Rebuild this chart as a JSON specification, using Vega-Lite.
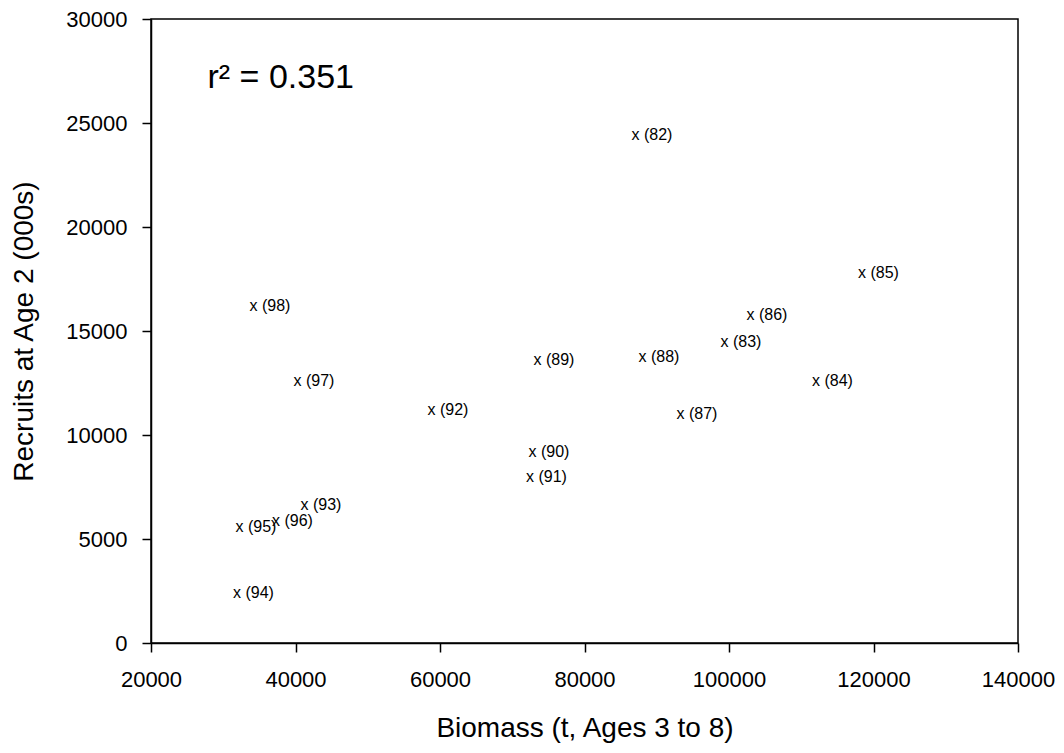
{
  "$schema": "https://vega.github.io/schema/vega-lite/v6.json",
  "width": 867,
  "height": 624,
  "autosize": "none",
  "padding": {"left": 151, "top": 19, "right": 46, "bottom": 110},
  "background": "white",
  "config": {
    "view": {"stroke": "black", "strokeWidth": 1.5},
    "font": "Liberation Sans",
    "axis": {
      "grid": false,
      "domainColor": "black",
      "domainWidth": 1.5,
      "tickColor": "black",
      "tickWidth": 1.5,
      "tickSize": 9,
      "labelFont": "Liberation Sans",
      "labelFontSize": 22,
      "labelColor": "black",
      "labelFlush": false,
      "titleFont": "Liberation Sans",
      "titleFontSize": 28,
      "titleFontWeight": "normal",
      "titleColor": "black"
    }
  },
  "layer": [
    {
      "data": {
        "values": [
          {"biomass": 87060, "recruits": 24425, "label": "x (82)"},
          {"biomass": 99378, "recruits": 14487, "label": "x (83)"},
          {"biomass": 112043, "recruits": 12583, "label": "x (84)"},
          {"biomass": 118410, "recruits": 17775, "label": "x (85)"},
          {"biomass": 102977, "recruits": 15770, "label": "x (86)"},
          {"biomass": 93288, "recruits": 11010, "label": "x (87)"},
          {"biomass": 88029, "recruits": 13736, "label": "x (88)"},
          {"biomass": 73495, "recruits": 13607, "label": "x (89)"},
          {"biomass": 72803, "recruits": 9198, "label": "x (90)"},
          {"biomass": 72457, "recruits": 7967, "label": "x (91)"},
          {"biomass": 58824, "recruits": 11203, "label": "x (92)"},
          {"biomass": 41246, "recruits": 6635, "label": "x (93)"},
          {"biomass": 31903, "recruits": 2404, "label": "x (94)"},
          {"biomass": 32249, "recruits": 5577, "label": "x (95)"},
          {"biomass": 37301, "recruits": 5866, "label": "x (96)"},
          {"biomass": 40277, "recruits": 12583, "label": "x (97)"},
          {"biomass": 34187, "recruits": 16218, "label": "x (98)"}
        ]
      },
      "mark": {"type": "text", "align": "left", "baseline": "middle", "dx": -4, "fontSize": 16, "font": "Liberation Sans", "color": "black"},
      "encoding": {
        "x": {
          "field": "biomass",
          "type": "quantitative",
          "scale": {"domain": [20000, 140000], "nice": false, "zero": false},
          "axis": {
            "title": "Biomass (t, Ages 3 to 8)",
            "values": [20000, 40000, 60000, 80000, 100000, 120000, 140000],
            "format": "d",
            "labelPadding": 17,
            "titlePadding": 24
          }
        },
        "y": {
          "field": "recruits",
          "type": "quantitative",
          "scale": {"domain": [0, 30000], "nice": false},
          "axis": {
            "title": "Recruits at Age 2 (000s)",
            "values": [0, 5000, 10000, 15000, 20000, 25000, 30000],
            "format": "d",
            "labelPadding": 15,
            "titlePadding": 27
          }
        },
        "text": {"field": "label"}
      }
    },
    {
      "data": {"values": [{"bx": 27820, "ry": 26684, "note": "r² = 0.351"}]},
      "mark": {"type": "text", "align": "left", "baseline": "alphabetic", "fontSize": 34, "font": "Liberation Sans", "color": "black"},
      "encoding": {
        "x": {"field": "bx", "type": "quantitative"},
        "y": {"field": "ry", "type": "quantitative"},
        "text": {"field": "note"}
      }
    }
  ]
}
